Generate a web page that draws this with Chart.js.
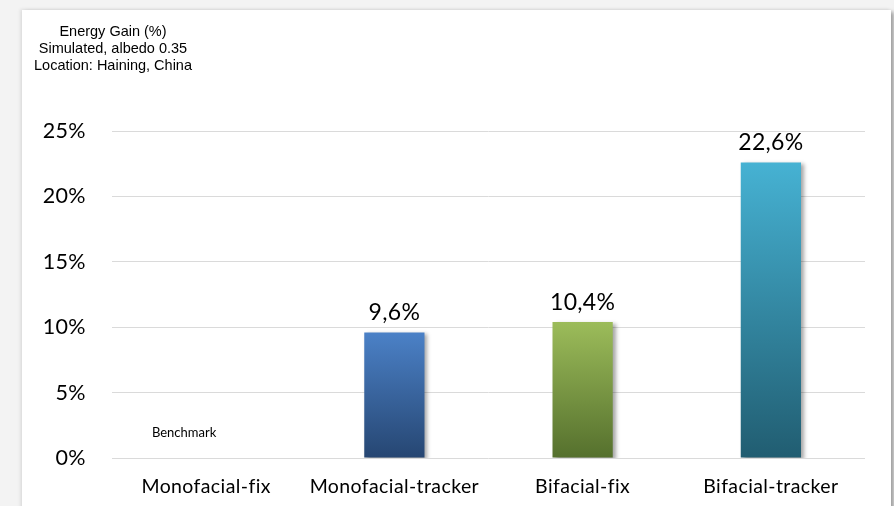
<!DOCTYPE html>
<html>
<head>
<meta charset="utf-8">
<script src="https://cdn.jsdelivr.net/npm/chart.js@4/dist/chart.umd.min.js"></script>
<style>
  html, body { margin: 0; padding: 0; }
  body { width: 894px; height: 506px; background: #f3f3f3; position: relative; overflow: hidden; }
  .panel {
    position: absolute; left: 22px; top: 10px; width: 869px; height: 520px;
    background: #fff;
    box-shadow: -2px -1px 3px rgba(0,0,0,0.08), 3px 2px 4px rgba(0,0,0,0.35);
  }
  #chart { position: absolute; left: 0; top: 0; }
</style>
</head>
<body>
<div class="panel"></div>
<canvas id="chart" width="894" height="506"></canvas>
<script>
const categories = ["Monofacial-fix", "Monofacial-tracker", "Bifacial-fix", "Bifacial-tracker"];
const gains = [0, 9.6, 10.4, 22.6];
const valueLabels = ["Benchmark", "9,6%", "10,4%", "22,6%"];
const yTicks = [0, 5, 10, 15, 20, 25];
const titleLines = ["Energy Gain (%)", "Simulated, albedo 0.35", "Location: Haining, China"];

// top / bottom colour of each bar's gradient
const topColors = ["#ffffff", "#4b81c7", "#9cbc5a", "#46b2d3"];
const bottomColors = ["#ffffff", "#264672", "#55702d", "#215d71"];

const fontFamily = "Lato, 'Open Sans', sans-serif";

function barGradient(context) {
  const chart = context.chart;
  const i = context.dataIndex;
  if (!chart.chartArea || i === undefined) return topColors[i] || "#ccc";
  const y = chart.scales.y;
  const yTop = y.getPixelForValue(gains[i]);
  const yBot = y.getPixelForValue(0);
  const g = chart.ctx.createLinearGradient(0, yTop, 0, yBot);
  g.addColorStop(0, topColors[i]);
  g.addColorStop(1, bottomColors[i]);
  return g;
}

// a little letter spacing keeps "fi" from turning into a ligature
const spacing = {
  id: "spacing",
  beforeDraw(chart) { chart.ctx.letterSpacing = "0.4px"; }
};

const headerText = {
  id: "headerText",
  afterDraw(chart) {
    const ctx = chart.ctx;
    ctx.save();
    ctx.letterSpacing = "0px";
    ctx.font = "14.5px 'Liberation Sans', Arial, sans-serif";
    ctx.fillStyle = "#000";
    ctx.textAlign = "center";
    ctx.textBaseline = "middle";
    titleLines.forEach((t, k) => ctx.fillText(t, 113, 32 + k * 17));
    ctx.restore();
  }
};

const barShadow = {
  id: "barShadow",
  beforeDatasetDraw(chart) {
    const ctx = chart.ctx;
    ctx.save();
    ctx.shadowColor = "rgba(0,0,0,0.35)";
    ctx.shadowBlur = 4;
    ctx.shadowOffsetX = 3;
    ctx.shadowOffsetY = 2;
  },
  afterDatasetDraw(chart) {
    chart.ctx.restore();
  }
};

const valueText = {
  id: "valueText",
  afterDatasetsDraw(chart) {
    const ctx = chart.ctx;
    const bars = chart.getDatasetMeta(0).data;
    ctx.save();
    ctx.fillStyle = "#000";
    ctx.textAlign = "center";
    bars.forEach((bar, i) => {
      if (gains[i] === 0) {
        ctx.font = "13px " + fontFamily;
        ctx.letterSpacing = "0px";
        ctx.textBaseline = "middle";
        ctx.fillText(valueLabels[i], bar.x - 22, 433);
      } else {
        ctx.font = "23px " + fontFamily;
        ctx.letterSpacing = "0.3px";
        ctx.textBaseline = "bottom";
        ctx.fillText(valueLabels[i], bar.x, bar.y - 8);
      }
    });
    ctx.restore();
  }
};

new Chart(document.getElementById("chart"), {
  type: "bar",
  data: {
    labels: categories,
    datasets: [{
      data: gains,
      backgroundColor: barGradient,
      borderWidth: 0,
      barPercentage: 0.64,
      categoryPercentage: 0.5
    }]
  },
  options: {
    responsive: false,
    animation: false,
    layout: { padding: { top: 131, right: 29, left: 0, bottom: 0 } },
    plugins: {
      legend: { display: false },
      tooltip: { enabled: false }
    },
    scales: {
      x: {
        grid: { display: false },
        border: { display: false },
        ticks: {
          color: "#000",
          font: { family: fontFamily, size: 19.5 },
          padding: 9
        },
        afterFit(scale) { scale.height = 48; }
      },
      y: {
        min: 0,
        max: 25,
        afterBuildTicks(scale) { scale.ticks = yTicks.map(v => ({ value: v })); },
        grid: { color: "#dadada", drawTicks: false },
        border: { display: false },
        ticks: {
          color: "#000",
          font: { family: fontFamily, size: 21.5 },
          padding: 26,
          callback: v => v + "%"
        },
        afterFit(scale) { scale.width = 112; }
      }
    }
  },
  plugins: [spacing, headerText, barShadow, valueText]
});
</script>
</body>
</html>
